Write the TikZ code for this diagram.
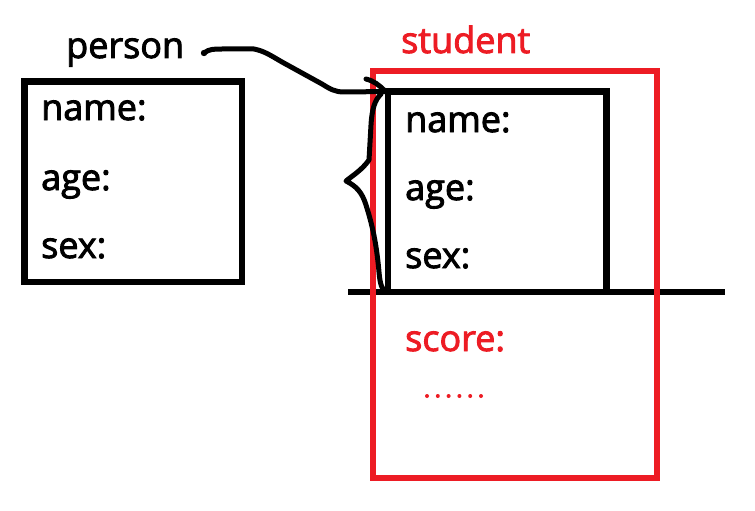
\documentclass[tikz,border=0pt]{standalone}
\usepackage{fontspec}
\setmainfont{Open Sans}[FakeBold=2.5]
\definecolor{pred}{RGB}{237,28,36}
\begin{document}
\begin{tikzpicture}[x=1pt,y=-1pt,
  lbl/.style={anchor=base west, inner sep=0pt, font=\fontsize{36}{40}\selectfont},
  rlbl/.style={lbl, text=pred},
  blackbox/.style={draw=black, line width=6.5pt, inner sep=0pt, outer sep=0pt, anchor=north west},
  redbox/.style={draw=pred, line width=6pt, inner sep=0pt, outer sep=0pt, anchor=north west},
  pen/.style={draw=black, line width=5pt, line cap=round, line join=round}]
\useasboundingbox[fill=white] (0,0) rectangle (755,511);

% left box (person)
\node[blackbox, minimum width=217.5pt, minimum height=200.5pt] (pbox) at (24.5,81.5) {};
\node[lbl] (pname) at (41,120) {name:};
\node[lbl] (page)  at (41,190) {age:};
\node[lbl] (psex)  at (41,258) {sex:};
\node[lbl] (ptitle) at (66,58) {person};

% right black box (inherited part)
\node[blackbox, minimum width=218.5pt, minimum height=200.5pt] (sbox) at (388,91.5) {};
\coordinate (lineL) at (348,292);
\coordinate (lineR) at (725,292);
\draw[line width=6pt] (lineL) -- (lineR);

% red box (student)
\node[redbox, minimum width=284pt, minimum height=407pt] (rbox) at (373,71) {};
\node[rlbl] (stitle) at (401,53) {student};
\node[lbl] (sname) at (405,132) {name:};
\node[lbl] (sage)  at (405,200) {age:};
\node[lbl] (ssex)  at (405,268) {sex:};
\node[rlbl] (sscore) at (405,351) {score:};
\foreach \i in {0,...,5}
  \fill[pred] ({427+10.8*\i},396) circle (2pt);

% connector from "person" to the student box
\coordinate (start) at (204,53);
\fill (start) circle (3.2pt);
\draw[pen] (start) .. controls (209,49) and (214,49) .. (222,49)
  -- (254,49) .. controls (264,51) and (270,55) .. (282,62)
  -- (322,84) .. controls (330,89) and (335,92) .. (344,92) -- (sbox.north west);
% hook at top of brace
\coordinate (hookA) at (366,79);
\draw[pen] (hookA) .. controls (374,81) and (379,85) .. (385,91);
% brace
\coordinate (braceTop) at (381,94);
\coordinate (cusp) at (346,181);
\draw[pen] (braceTop) .. controls (375,100) and (372,108) .. (371,125)
  -- (369,160) .. controls (362,170) and (352,176) .. (cusp)
  .. controls (356,186) and (362,192) .. (366,205)
  .. controls (374,230) and (377,250) .. (379,272)
  .. controls (380,284) and (382,290) .. (386,292);
\end{tikzpicture}
\end{document}
